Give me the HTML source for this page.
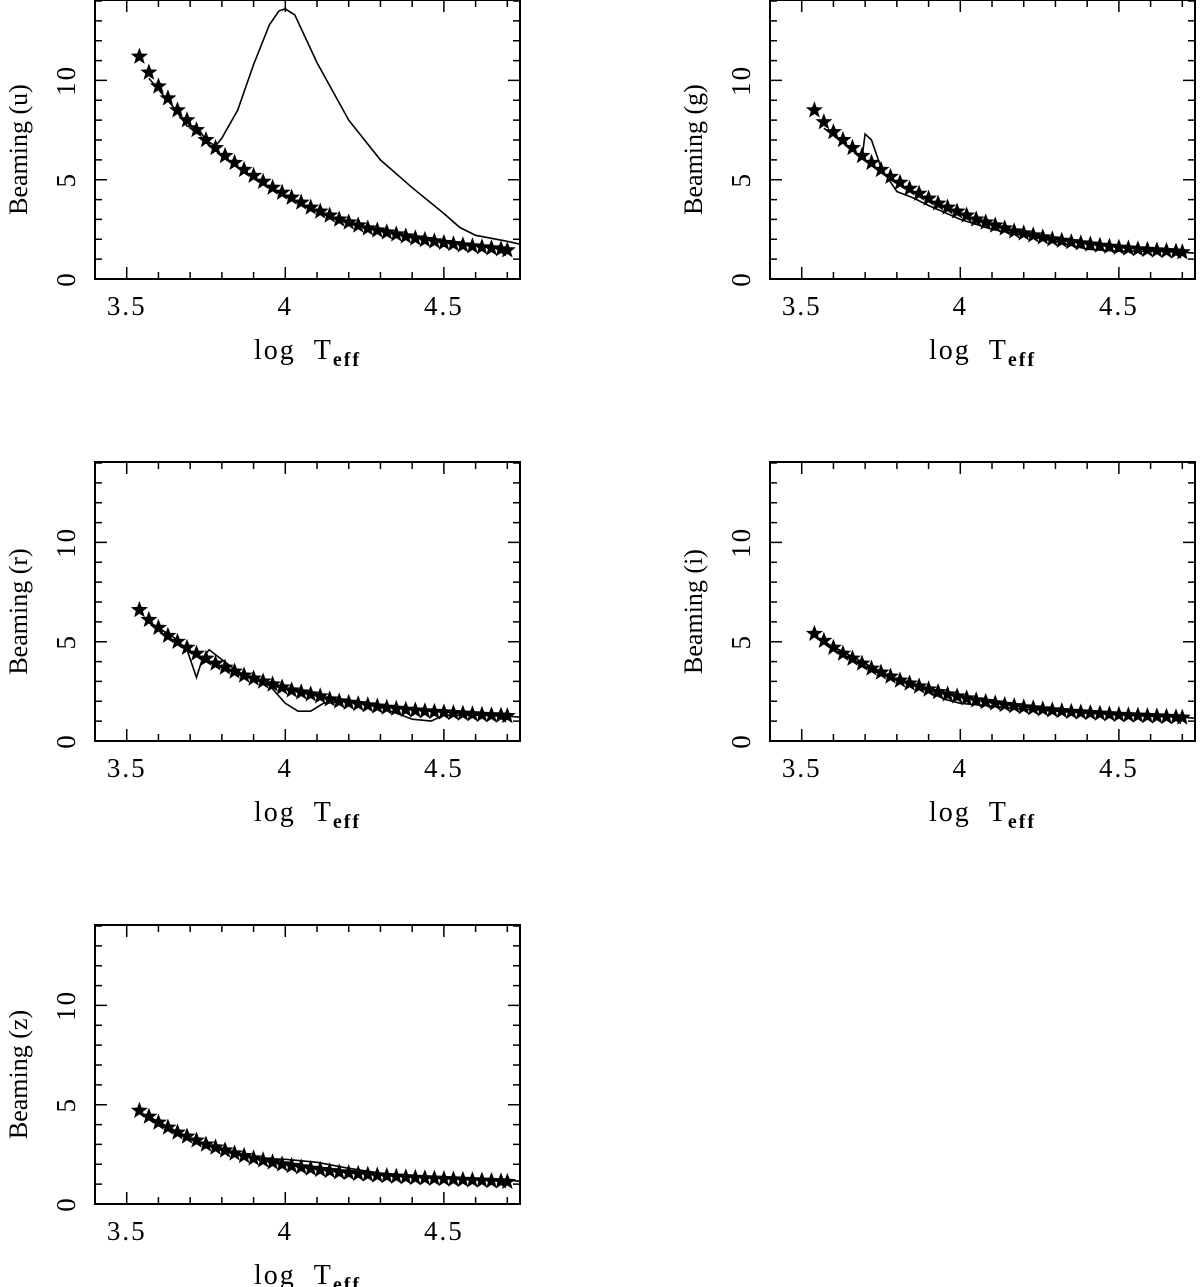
<!DOCTYPE html>
<html><head><meta charset="utf-8"><style>
body{margin:0;background:#fff}
svg{display:block}
text{font-family:"Liberation Serif",serif;fill:#000}
</style></head><body>
<svg id="fig" width="1200" height="1287" viewBox="0 0 1200 1287"></svg>
<script>
const starX=[3.54,3.57,3.60,3.63,3.66,3.69,3.72,3.75,3.78,3.81,3.84,3.87,3.90,3.93,3.96,3.99,4.02,4.05,4.08,4.11,4.14,4.17,4.20,4.23,4.26,4.29,4.32,4.35,4.38,4.41,4.44,4.47,4.50,4.53,4.56,4.59,4.62,4.65,4.68,4.70];
const starU=[11.2,10.4,9.7,9.1,8.5,8.0,7.5,7.0,6.6,6.2,5.85,5.5,5.2,4.9,4.6,4.35,4.1,3.85,3.6,3.4,3.2,3.0,2.85,2.7,2.55,2.45,2.35,2.25,2.15,2.05,1.97,1.9,1.82,1.76,1.7,1.65,1.6,1.55,1.5,1.45];
const starG=[8.5,7.9,7.4,7.0,6.6,6.2,5.85,5.5,5.15,4.85,4.55,4.3,4.05,3.8,3.6,3.4,3.2,3.0,2.85,2.7,2.55,2.4,2.3,2.2,2.1,2.0,1.93,1.86,1.8,1.74,1.68,1.63,1.58,1.54,1.5,1.47,1.44,1.41,1.38,1.35];
const starR=[6.6,6.1,5.7,5.3,5.0,4.7,4.4,4.15,3.9,3.7,3.5,3.3,3.15,3.0,2.85,2.7,2.55,2.45,2.35,2.25,2.1,2.0,1.93,1.86,1.8,1.74,1.68,1.63,1.58,1.54,1.5,1.47,1.44,1.41,1.38,1.35,1.32,1.3,1.28,1.26];
const starI=[5.4,5.05,4.7,4.4,4.15,3.9,3.65,3.45,3.25,3.05,2.9,2.75,2.6,2.47,2.35,2.25,2.15,2.05,1.97,1.9,1.82,1.76,1.7,1.65,1.6,1.55,1.51,1.47,1.44,1.41,1.38,1.35,1.32,1.3,1.28,1.26,1.24,1.22,1.2,1.18];
const starZ=[4.7,4.4,4.1,3.85,3.6,3.4,3.2,3.0,2.85,2.7,2.55,2.42,2.3,2.2,2.1,2.0,1.92,1.85,1.78,1.72,1.66,1.6,1.56,1.52,1.48,1.44,1.41,1.38,1.35,1.32,1.3,1.28,1.26,1.24,1.22,1.2,1.18,1.16,1.14,1.12];
const lineU=[[3.57,10.1],[3.65,8.6],[3.69,7.7],[3.72,7.7],[3.75,7.0],[3.78,6.7],[3.8,7.1],[3.85,8.5],[3.9,10.8],[3.95,12.8],[3.98,13.5],[4.0,13.6],[4.03,13.3],[4.1,10.9],[4.2,8.0],[4.3,6.0],[4.4,4.6],[4.5,3.3],[4.55,2.6],[4.6,2.2],[4.7,1.9],[4.74,1.75]];
const lineG=[[3.57,7.6],[3.65,6.6],[3.69,6.1],[3.70,7.3],[3.72,7.0],[3.75,5.6],[3.8,4.4],[3.85,4.1],[3.9,3.7],[4.0,3.0],[4.1,2.5],[4.2,2.2],[4.3,1.9],[4.4,1.5],[4.5,1.4],[4.6,1.4],[4.7,1.35],[4.74,1.3]];
const lineR=[[3.57,6.0],[3.65,5.2],[3.69,4.6],[3.72,3.2],[3.74,4.2],[3.76,4.6],[3.8,4.1],[3.85,3.5],[3.9,3.1],[3.95,2.8],[4.0,1.9],[4.04,1.5],[4.08,1.5],[4.12,1.9],[4.2,2.0],[4.3,1.7],[4.4,1.1],[4.46,1.0],[4.5,1.3],[4.6,1.3],[4.7,1.25],[4.74,1.2]];
const lineI=[[3.57,5.0],[3.7,3.9],[3.8,3.1],[3.9,2.5],[3.95,2.1],[4.0,1.9],[4.1,1.75],[4.2,1.6],[4.3,1.5],[4.4,1.4],[4.5,1.3],[4.6,1.25],[4.7,1.2],[4.74,1.15]];
const lineZ=[[3.57,4.4],[3.7,3.3],[3.8,2.7],[3.9,2.3],[4.0,2.25],[4.1,2.1],[4.2,1.8],[4.3,1.55],[4.4,1.4],[4.5,1.3],[4.6,1.25],[4.7,1.2],[4.74,1.15]];
const xTicks=["3.5","4","4.5"];
const yTicks=["0","5","10"];
const panels=[
 {band:"u",L:95,B:279,stars:starU,line:lineU},
 {band:"g",L:770,B:279,stars:starG,line:lineG},
 {band:"r",L:95,B:741,stars:starR,line:lineR},
 {band:"i",L:770,B:741,stars:starI,line:lineI},
 {band:"z",L:95,B:1204,stars:starZ,line:lineZ}];
const NS="http://www.w3.org/2000/svg";
const svg=document.getElementById('fig');
const X0=3.4,X1=4.74,Y0=0,Y1=14.05,W=425,H=279;
function mk(t,a,p){const e=document.createElementNS(NS,t);for(const k in a)e.setAttribute(k,a[k]);(p||svg).appendChild(e);return e;}
function starPts(cx,cy,r){let s=[];for(let k=0;k<10;k++){const rr=k%2?r*0.42:r;const a=-Math.PI/2+k*Math.PI/5;s.push((cx+rr*Math.cos(a)).toFixed(1)+','+(cy+rr*Math.sin(a)).toFixed(1));}return s.join(' ');}
panels.forEach(p=>{
 const g=mk('g',{});
 
 
 const sx=v=>p.L+(v-X0)/(X1-X0)*W;
 const sy=v=>p.B-(v-Y0)/(Y1-Y0)*H;
 const T=p.B-H,R=p.L+W;
 const fr=mk('rect',{x:p.L,y:T,width:W,height:H,fill:'none',stroke:'#000','stroke-width':2},g);
 
 
 let d='';
 for(let i=34;i<=47;i++){const v=i/10,x=sx(v),len=(i%5==0)?12:7;d+=`M${x},${p.B}v${-len}M${x},${T}v${len}`;}
 for(let v=1;v<=14;v++){const y=sy(v),len=(v%5==0)?12:7;d+=`M${p.L},${y}h${len}M${R},${y}h${-len}`;}
 const tk=mk('path',{d:d,stroke:'#000','stroke-width':1.5,fill:'none'},g);
 
 
 xTicks.forEach(s=>{const t=mk('text',{x:sx(parseFloat(s)),y:p.B+36,'font-size':27,'letter-spacing':2,'text-anchor':'middle'},g);t.textContent=s;
  });
 yTicks.forEach(s=>{const y=sy(parseFloat(s));const t=mk('text',{x:0,y:0,'font-size':27,'letter-spacing':2,'text-anchor':'middle',transform:`translate(${p.L-20},${y}) rotate(-90)`},g);t.textContent=s;
  });
 const xl=mk('text',{x:p.L+W/2,y:p.B+80,'font-size':28,'letter-spacing':2,'text-anchor':'middle'},g);
 xl.innerHTML='log&#160;&#160;T<tspan font-size="20" font-weight="bold" dy="7">eff</tspan>';
 
 const yl=mk('text',{x:0,y:0,'font-size':26,'text-anchor':'middle',transform:`translate(${p.L-68},${T+H/2+10}) rotate(-90)`},g);
 yl.textContent='Beaming ('+p.band+')';
 
 const ln=mk('polyline',{points:p.line.map(q=>sx(q[0]).toFixed(1)+','+sy(q[1]).toFixed(1)).join(' '),fill:'none',stroke:'#000','stroke-width':1.6},g);
 
 starX.forEach((xv,i)=>{const s=mk('polygon',{points:starPts(sx(xv),sy(p.stars[i]),9),fill:'#000'},g);
  });
});
</script>
</body></html>
